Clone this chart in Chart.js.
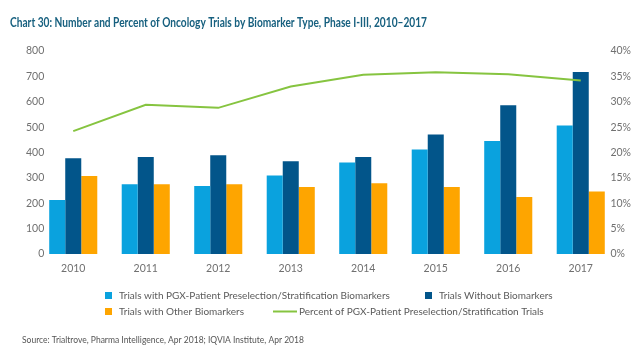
<!DOCTYPE html>
<html>
<head>
<meta charset="utf-8">
<script src="https://cdn.jsdelivr.net/npm/chart.js@4"></script>
<style>
  html, body { margin: 0; padding: 0; background: #ffffff; }
  #wrap { width: 640px; height: 357px; position: relative; }
</style>
</head>
<body>
<div id="wrap"><canvas id="c" width="640" height="357"></canvas></div>
<script>
const titleText = 'Chart 30: Number and Percent of Oncology Trials by Biomarker Type, Phase I-III, 2010\u20132017';
const sourceText = 'Source: Trialtrove, Pharma Intelligence, Apr 2018; IQVIA Institute, Apr 2018';
const years = ['2010', '2011', '2012', '2013', '2014', '2015', '2016', '2017'];
const pgxTrials = [213, 275, 268, 309, 361, 412, 445, 506];
const withoutTrials = [377, 382, 389, 366, 382, 471, 586, 717];
const otherTrials = [307, 275, 275, 264, 279, 264, 225, 246];
const pgxPercent = [24.2, 29.4, 28.8, 33.0, 35.3, 35.8, 35.4, 34.2];
const seriesNames = [
  'Trials with PGX-Patient Preselection/Stratification Biomarkers',
  'Trials Without Biomarkers',
  'Trials with Other Biomarkers',
  'Percent of PGX-Patient Preselection/Stratification Trials'
];
const leftTicks = [0, 100, 200, 300, 400, 500, 600, 700, 800];
const rightTicks = [0, 5, 10, 15, 20, 25, 30, 35, 40];

const C_LIGHT = '#0aa2de';
const C_DARK = '#02558a';
const C_ORANGE = '#fea500';
const C_GREEN = '#86c440';
const TXT = '#707070';
const FONT = 'Lato, "Open Sans", sans-serif';

const textPlugin = {
  id: 'customText',
  afterDraw(chart) {
    const ctx = chart.ctx;
    const ds = chart.data.datasets;
    ctx.save();
    // title (condensed to reference width)
    ctx.font = 'bold 13.5px ' + FONT;
    ctx.fillStyle = '#17607f';
    ctx.textBaseline = 'middle';
    ctx.textAlign = 'left';
    const tw = ctx.measureText(titleText).width;
    ctx.save();
    ctx.translate(10, 23);
    ctx.scale(417 / tw, 1);
    ctx.fillText(titleText, 0, 0);
    ctx.restore();

    // legend
    ctx.font = '10px ' + FONT;
    const items = [
      { di: 0, x: 105, y: 295.5 },
      { di: 1, x: 425, y: 295.5 },
      { di: 2, x: 105, y: 311.5 },
      { di: 3, x: 273, y: 311.5 }
    ];
    items.forEach(({ di, x, y }) => {
      const d = ds[di];
      if (d.type === 'line') {
        ctx.strokeStyle = d.borderColor;
        ctx.lineWidth = 2;
        ctx.beginPath();
        ctx.moveTo(x, y);
        ctx.lineTo(x + 24, y);
        ctx.stroke();
        x += 26;
      } else {
        ctx.fillStyle = d.backgroundColor;
        ctx.fillRect(x, y - 3.5, 7, 7);
        x += 14;
      }
      ctx.fillStyle = '#5a5a5a';
      ctx.fillText(d.label, x, y);
    });
    ctx.font = '8.5px ' + FONT;
    ctx.fillStyle = '#555555';
    ctx.fillText(sourceText, 22, 340);
    ctx.restore();
  }
};

new Chart(document.getElementById('c'), {
  data: {
    labels: years,
    datasets: [
      { type: 'bar', label: seriesNames[0], data: pgxTrials, yAxisID: 'y',
        backgroundColor: C_LIGHT, order: 1 },
      { type: 'bar', label: seriesNames[1], data: withoutTrials, yAxisID: 'y',
        backgroundColor: C_DARK, order: 1 },
      { type: 'bar', label: seriesNames[2], data: otherTrials, yAxisID: 'y',
        backgroundColor: C_ORANGE, order: 1 },
      { type: 'line', label: seriesNames[3], data: pgxPercent, yAxisID: 'y1',
        borderColor: C_GREEN, backgroundColor: C_GREEN, borderWidth: 2,
        pointRadius: 0, tension: 0, order: 0 }
    ]
  },
  options: {
    responsive: false,
    animation: false,
    datasets: { bar: { categoryPercentage: 0.663, barPercentage: 1.0 } },
    layout: { padding: { left: 10, right: 0, top: 51, bottom: 0 } },
    plugins: {
      legend: { display: false },
      tooltip: { enabled: false },
      title: { display: false }
    },
    scales: {
      x: {
        grid: { display: false, drawTicks: false },
        border: { display: false },
        ticks: { color: TXT, font: { family: FONT, size: 10.5 }, padding: 8 },
        afterFit(s) { s.height = 103; }
      },
      y: {
        position: 'left', min: 0, max: 800,
        grid: { display: false, drawTicks: false },
        border: { display: false },
        afterBuildTicks(s) { s.ticks = leftTicks.map(v => ({ value: v })); },
        ticks: { color: TXT, font: { family: FONT, size: 10.5 }, mirror: true,
                 crossAlign: 'far', padding: -11 },
        afterFit(s) { s.width = 27; }
      },
      y1: {
        position: 'right', min: 0, max: 40,
        grid: { display: false, drawTicks: false },
        border: { display: false },
        afterBuildTicks(s) { s.ticks = rightTicks.map(v => ({ value: v })); },
        ticks: { color: TXT, font: { family: FONT, size: 10.5 }, mirror: true,
                 crossAlign: 'far', padding: 14,
                 callback: (v) => v + '%' },
        afterFit(s) { s.width = 23; }
      }
    }
  },
  plugins: [textPlugin]
});
</script>
</body>
</html>
